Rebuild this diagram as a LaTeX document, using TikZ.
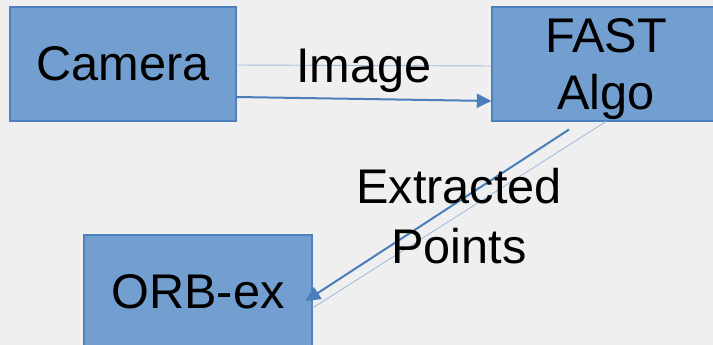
\documentclass[tikz,border=0pt]{standalone}
\usepackage{fontspec}
\setmainfont{Liberation Sans}
\usetikzlibrary{arrows.meta,calc}

\definecolor{pagebg}{RGB}{239,239,239}
\definecolor{boxfill}{RGB}{114,159,207}
\definecolor{boxline}{RGB}{79,129,189}
\definecolor{linkblue}{RGB}{74,126,187}
\definecolor{faintblue}{RGB}{165,190,222}

\tikzset{
  block/.style={draw=boxline, line width=0.8pt, fill=boxfill,
    minimum width=171pt, minimum height=85.5pt, inner sep=0pt,
    align=center, text depth=0pt, font=\fontsize{36.5}{43}\selectfont},
  flowarrow/.style={draw=linkblue, line width=1.5pt,
    -{Triangle[length=11pt,width=10.5pt]}},
  ghostline/.style={draw=faintblue, line width=0.7pt},
  caption/.style={inner sep=0pt, align=center,
    font=\fontsize{36.5}{45}\selectfont}
}

\begin{document}
\begin{tikzpicture}[x=0.75pt,y=-0.75pt]
  % page
  \fill[pagebg] (0,0) rectangle (713,345);
  \useasboundingbox (0,0) rectangle (713,345);

  % processing blocks
  \node[block, minimum width=169.5pt] (cam)  at (123,64)  {Camera};
  \node[block] (fast) at (606,64)  {FAST\\Algo};
  \node[block] (orb)  at (198,292) {ORB-ex};

  % Camera -> FAST
  \draw[ghostline] ($(cam.east)+(0,1)$) -- ($(fast.west)+(0,2)$);
  \draw[flowarrow] ($(cam.east)+(0,33)$) -- ($(fast.west)+(0,37)$);

  % FAST -> ORB-ex
  \draw[ghostline] (fast.south) -- ($(orb.east)+(0,16)$);
  \draw[flowarrow] ($(fast.south)+(-37,8)$) -- ($(orb.east)+(-7,9)$);

  % link labels
  \node[caption, anchor=base] (lblimg) at (364,83)  {Image};
  \node[caption] (lblpts) at (459,216) {Extracted\\Points};
\end{tikzpicture}
\end{document}
